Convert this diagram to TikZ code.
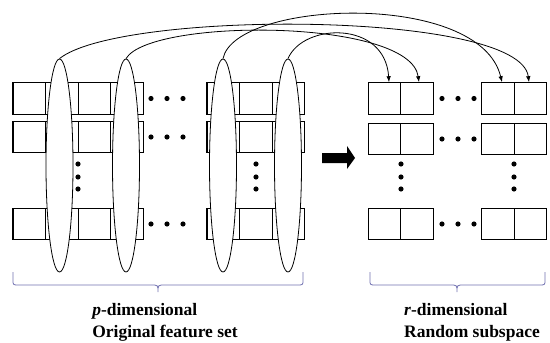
\documentclass[tikz,border=0pt]{standalone}
\usepackage{fontspec}
\setmainfont{Liberation Serif}
\usetikzlibrary{shapes.geometric,arrows.meta}
\definecolor{bracecol}{RGB}{112,112,176}
\tikzset{
  cell/.style={draw, line width=1.1pt, minimum width=32.6pt, minimum height=31.5pt, inner sep=0pt},
  bag/.style={draw, ellipse, fill=white, line width=0.8pt, minimum width=27pt, minimum height=213pt, inner sep=0pt},
  pick/.style={line width=0.8pt, -{Latex[length=6pt,width=4.5pt]}},
  brace/.style={draw=bracecol, line width=0.8pt},
  caption/.style={align=left, inner sep=0pt, font=\bfseries\fontsize{17.5}{21.5}\selectfont},
}
\begin{document}
\begin{tikzpicture}[x=1pt, y=-1pt]
\useasboundingbox (0,0) rectangle (550,343);

% original feature set: left group of four columns
\foreach \r/\y in {1/98.5, 2/137, 4/224} {
  \foreach \c/\x in {1/29.3, 2/61.9, 3/94.5, 4/127.1}
    {\node[cell] (a\r\c) at (\x,\y) {};}
  \foreach \c/\x in {1/223.3, 2/255.9, 3/288.5}
    {\node[cell] (b\r\c) at (\x,\y) {};}
}

% random subspace
\foreach \r/\y in {1/98.5, 2/139, 4/224} {
  \foreach \c/\x in {1/384.5, 2/417, 3/498, 4/530.5}
    {\node[cell] (r\r\c) at (\x,\y) {};}
}

% sampled feature columns
\node[bag] (e1) at (59.5,165.5) {};
\node[bag] (e2) at (126,165.5) {};
\node[bag] (e3) at (223,165.5) {};
\node[bag] (e4) at (288,165.5) {};

% ellipsis dots
\foreach \y in {98.5, 137, 224} {
  \foreach \x in {151, 167, 183} {\fill (\x,\y) circle (2.6pt);}
}
\foreach \y in {98.5, 139, 224} {
  \foreach \x in {442, 458, 474} {\fill (\x,\y) circle (2.6pt);}
}
\foreach \y in {164, 177, 189} {
  \foreach \x in {78, 256, 401, 514} {\fill (\x,\y) circle (2.6pt);}
}

% mapping of sampled columns into the subspace
\draw[pick] (e1.north) .. controls (120,10) and (520,10) .. ([xshift=-1.5pt]r14.north);
\draw[pick] (e2.north) .. controls (150,18) and (410,18) .. ([xshift=2pt]r12.north);
\draw[pick] (e3.north) .. controls (235,0) and (480,-10) .. ([xshift=4pt]r13.north);
\draw[pick] (e4.north) .. controls (303,23) and (385,20) .. ([xshift=4.5pt]r11.north);

% block arrow
\fill (322,153) -- (347,153) -- (347,146) -- (355,158) -- (347,169) -- (347,163) -- (322,163) -- cycle;

% braces
\draw[brace] (13,272) -- (13,280) .. controls (13,285) .. (19,285) -- (151,285)
  .. controls (158,285) .. (158,292) .. controls (158,285) .. (165,285) -- (297,285)
  .. controls (303,285) .. (303,280) -- (303,272);
\draw[brace] (370,272) -- (370,280) .. controls (370,285) .. (376,285) -- (450,285)
  .. controls (457,285) .. (457,292) .. controls (457,285) .. (464,285) -- (539,285)
  .. controls (545,285) .. (545,280) -- (545,272);

% captions
\node[caption] (capP) at (165,322.5) {\textit{p}-dimensional\\Original feature set};
\node[caption] (capR) at (472,322.5) {\textit{r}-dimensional\\Random subspace};
\end{tikzpicture}
\end{document}
